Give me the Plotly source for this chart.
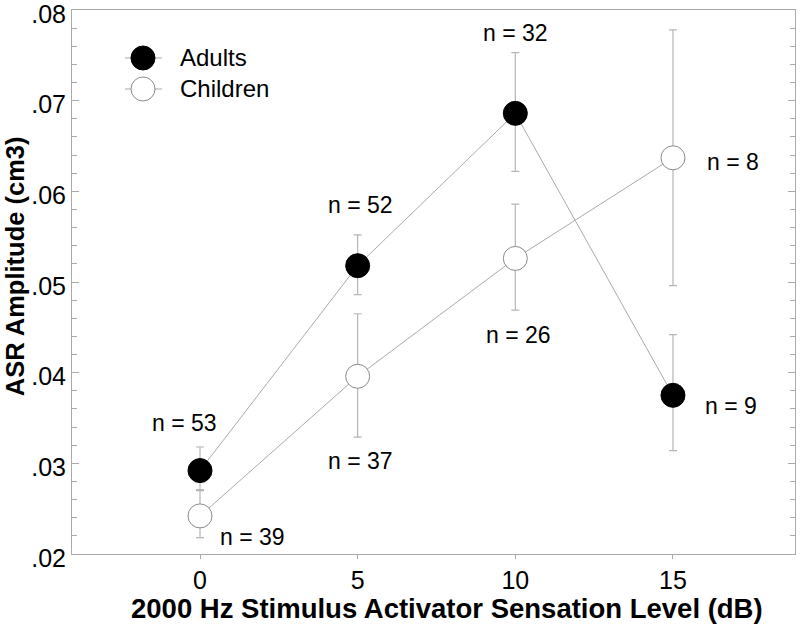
import plotly.graph_objects as go

levels = [0, 5, 10, 15]
adults_mean = [0.0292, 0.0518, 0.0686, 0.0375]
adults_upper = [0.0318, 0.0552, 0.0753, 0.0442]
adults_lower = [0.0271, 0.0486, 0.0622, 0.0314]
children_mean = [0.0242, 0.0396, 0.0526, 0.0637]
children_upper = [0.0270, 0.0465, 0.0586, 0.0778]
children_lower = [0.0218, 0.0329, 0.0469, 0.0496]
adults_n = [53, 52, 32, 9]
children_n = [39, 37, 26, 8]
y_tick_vals = [0.02, 0.03, 0.04, 0.05, 0.06, 0.07, 0.08]
y_tick_text = [".02", ".03", ".04", ".05", ".06", ".07", ".08"]
series_names = ["Adults", "Children"]
x_title = "2000 Hz Stimulus Activator Sensation Level (dB)"
y_title = "ASR Amplitude (cm3)"

FONT = "Liberation Sans, Arial, sans-serif"
GREY = "#aaaaaa"
ERRC = "#b5b5b5"


def err(mean, up, lo):
    return dict(type="data", symmetric=False,
                array=[u - m for u, m in zip(up, mean)],
                arrayminus=[m - l for m, l in zip(mean, lo)],
                color=ERRC, thickness=1.2, width=4)


fig = go.Figure()
fig.add_trace(go.Scatter(
    x=levels, y=children_mean, name=series_names[1], mode="lines+markers",
    line=dict(color=GREY, width=1), showlegend=False, hoverinfo="skip",
    marker=dict(size=24, color="white", line=dict(color="#8a8a8a", width=1)),
    error_y=err(children_mean, children_upper, children_lower)))
fig.add_trace(go.Scatter(
    x=levels, y=adults_mean, name=series_names[0], mode="lines+markers",
    line=dict(color=GREY, width=1), showlegend=False, hoverinfo="skip",
    marker=dict(size=24, color="black", line=dict(color="black", width=1)),
    error_y=err(adults_mean, adults_upper, adults_lower)))

# n labels: offsets relative to each point
adult_off = [(-0.48, 0.0053), (0.1, 0.0067), (0.0, 0.0089), (1.84, -0.0012)]
child_off = [(1.68, -0.0023), (0.1, -0.0093), (0.1, -0.0084), (1.9, -0.0005)]
for x, y, n, (dx, dy) in zip(levels, adults_mean, adults_n, adult_off):
    fig.add_annotation(x=x + dx, y=y + dy, text=f"n = {n}", showarrow=False,
                       font=dict(size=23, color="black", family=FONT))
for x, y, n, (dx, dy) in zip(levels, children_mean, children_n, child_off):
    fig.add_annotation(x=x + dx, y=y + dy, text=f"n = {n}", showarrow=False,
                       font=dict(size=23, color="black", family=FONT))

# manual legend (large markers like the reference)
leg_items = [(series_names[0], "black", "black", 0.9118),
             (series_names[1], "white", "#8a8a8a", 0.8548)]
for name, fill, edge, ly in leg_items:
    fig.add_shape(type="line", xref="paper", yref="paper",
                  x0=0.0733, x1=0.1245, y0=ly, y1=ly,
                  line=dict(color=GREY, width=1))
    fig.add_shape(type="circle", xref="paper", yref="paper",
                  xsizemode="pixel", ysizemode="pixel",
                  xanchor=0.0982, yanchor=ly, x0=-12, x1=12, y0=-12, y1=12,
                  fillcolor=fill, line=dict(color=edge, width=1))
    fig.add_annotation(xref="paper", yref="paper", x=0.1466, y=ly,
                       xanchor="left", yanchor="middle", text=name,
                       showarrow=False,
                       font=dict(size=24, color="black", family=FONT))

# axis titles as annotations (positioned like the reference)
fig.add_annotation(xref="paper", yref="paper", x=0.5185, y=0, yanchor="middle",
                   yshift=-54, text=f"<b>{x_title}</b>", showarrow=False,
                   font=dict(size=27.5, color="black", family=FONT))
fig.add_annotation(xref="paper", yref="paper", x=0, y=0.529, xanchor="center",
                   xshift=-57, textangle=-90, text=f"<b>{y_title}</b>",
                   showarrow=False,
                   font=dict(size=25.5, color="black", family=FONT))

fig.update_layout(
    width=800, height=624,
    margin=dict(l=72, r=5, t=10, b=70, autoexpand=False),
    paper_bgcolor="white", plot_bgcolor="white",
    font=dict(family=FONT, color="black"),
    showlegend=False, hovermode=False,
    xaxis=dict(range=[-4.06, 18.87], tickvals=levels, ticks="outside", ticklen=4,
               tickcolor=GREY, showline=True, linecolor=GREY, linewidth=1,
               mirror=True, showgrid=False, zeroline=False, automargin=False,
               ticklabeloverflow="allow",
               tickfont=dict(size=25, family=FONT)),
    yaxis=dict(range=[0.0199999, 0.0800001], tickvals=y_tick_vals,
               ticktext=y_tick_text, ticklabeloverflow="allow", automargin=False,
               ticklabelshift=4,
               ticks="inside", ticklen=7, tickcolor=GREY, showline=True,
               linecolor=GREY, linewidth=1, mirror="ticks", showgrid=False,
               zeroline=False, tickfont=dict(size=25, family=FONT),
               minor=dict(dtick=0.002, ticks="inside", ticklen=5, tickcolor=GREY)),
)
fig.write_html("out.html", config={"displayModeBar": False},
               post_script="document.body.style.margin='0';")
